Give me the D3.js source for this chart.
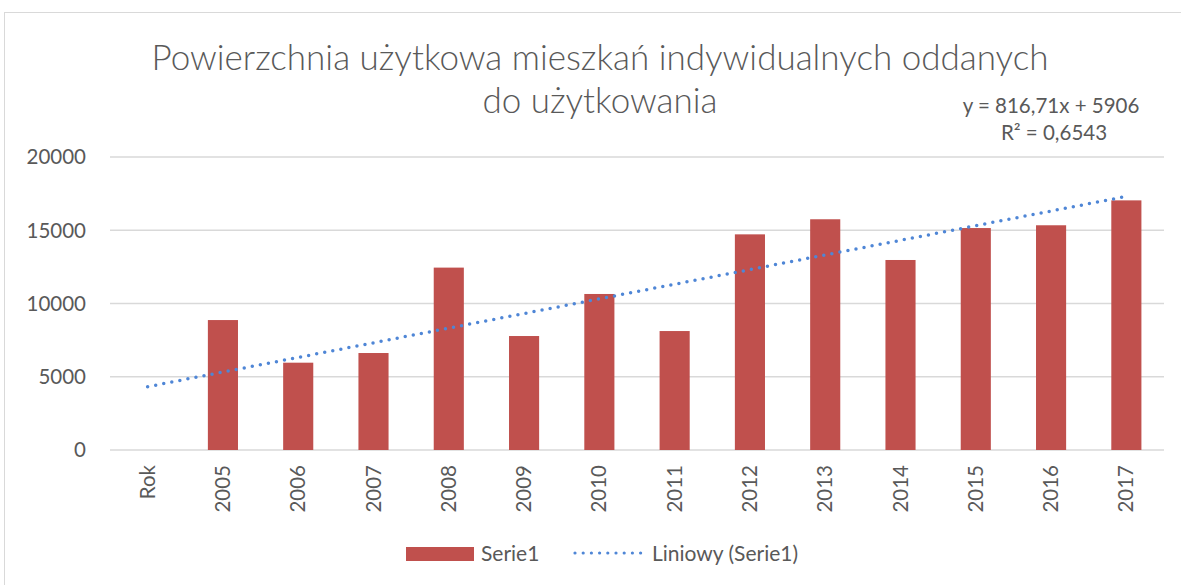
<!DOCTYPE html>
<html><head><meta charset="utf-8">
<script src="https://cdn.jsdelivr.net/npm/d3@7"></script>
<style>body{margin:0;background:#fff}svg{display:block}text{font-family:Lato,"Open Sans",sans-serif;fill:#595959}</style>
</head><body><svg id="c" width="1181" height="585"></svg>
<script>
const categories = ["Rok","2005","2006","2007","2008","2009","2010","2011","2012","2013","2014","2015","2016","2017"];
const values = [0,8870,5960,6620,12450,7780,10650,8120,14720,15750,12970,15150,15340,17040];
const yTicks = [0,5000,10000,15000,20000];
const titleLines = ["Powierzchnia użytkowa mieszkań indywidualnych oddanych","do użytkowania"];
const equationLines = ["y = 816,71x + 5906","R² = 0,6543"];
const legendLabels = ["Serie1","Liniowy (Serie1)"];

const svg = d3.select("#c");
const barColor = "#c0504d", trendColor = "#4f86d6", gridColor = "#d9d9d9";
svg.append("rect").attr("x",4.5).attr("y",12.5).attr("width",1190).attr("height",600)
  .attr("fill","none").attr("stroke","#d9d9d9");

const m = {l:110, r:1164, t:157, b:450};
const x = d3.scaleBand().domain(categories).range([m.l,m.r]).paddingInner(0.6).paddingOuter(0.3);
const y = d3.scaleLinear().domain([0,20000]).range([m.b,m.t]);

// grid
svg.append("g").selectAll("line").data(yTicks).join("line")
  .attr("x1",m.l).attr("x2",m.r).attr("y1",d=>y(d)).attr("y2",d=>y(d))
  .attr("stroke",gridColor).attr("stroke-width",1.5);
svg.append("g").selectAll("text").data(yTicks).join("text")
  .attr("x",86).attr("y",d=>y(d)).attr("dy","0.36em").attr("text-anchor","end")
  .attr("font-size",20.5).text(d=>d);

// bars
svg.append("g").selectAll("rect").data(categories).join("rect")
  .attr("x",d=>x(d)).attr("width",x.bandwidth())
  .attr("y",(d,i)=>y(values[i])).attr("height",(d,i)=>y(0)-y(values[i]))
  .attr("fill",barColor);

// x labels
svg.append("g").selectAll("text").data(categories).join("text")
  .attr("transform",d=>`translate(${x(d)+x.bandwidth()/2+7},465) rotate(-90)`)
  .attr("text-anchor","end").attr("font-size",20.5).text(d=>d);

// linear trend (least squares fit of the series)
const xs = values.map((v,i)=>i+1);
const mx = d3.mean(xs), my = d3.mean(values);
const slope = d3.sum(xs,(xi,i)=>(xi-mx)*(values[i]-my))/d3.sum(xs,xi=>(xi-mx)*(xi-mx));
const icpt = my - slope*mx;
const cx = i => x(categories[i])+x.bandwidth()/2;
const n = categories.length;
svg.append("line").attr("x1",cx(0)).attr("x2",cx(n-1))
  .attr("y1",y(icpt+slope*1)).attr("y2",y(icpt+slope*n))
  .attr("stroke",trendColor).attr("stroke-width",3.5).attr("stroke-linecap","round")
  .attr("stroke-dasharray","0 8.2");

// title
svg.append("g").selectAll("text").data(titleLines).join("text")
  .attr("x",600).attr("y",(d,i)=>70+i*43).attr("text-anchor","middle")
  .attr("font-size",35).attr("font-weight",300).text(d=>d);

// equation
svg.append("g").selectAll("text").data(equationLines).join("text")
  .attr("y",(d,i)=>113+i*27).attr("text-anchor","middle")
  .attr("x",(d,i)=>i?1054:1051)
  .attr("font-size",20.5).text(d=>d);

// legend
svg.append("rect").attr("x",406).attr("y",547).attr("width",68).attr("height",14).attr("fill",barColor);
svg.append("text").attr("x",481).attr("y",561).attr("font-size",21).text(legendLabels[0]);
svg.append("line").attr("x1",575).attr("x2",645).attr("y1",553).attr("y2",553)
  .attr("stroke",trendColor).attr("stroke-width",3.2).attr("stroke-linecap","round").attr("stroke-dasharray","0 8.2");
svg.append("text").attr("x",652).attr("y",561).attr("font-size",21).text(legendLabels[1]);
</script></body></html>
